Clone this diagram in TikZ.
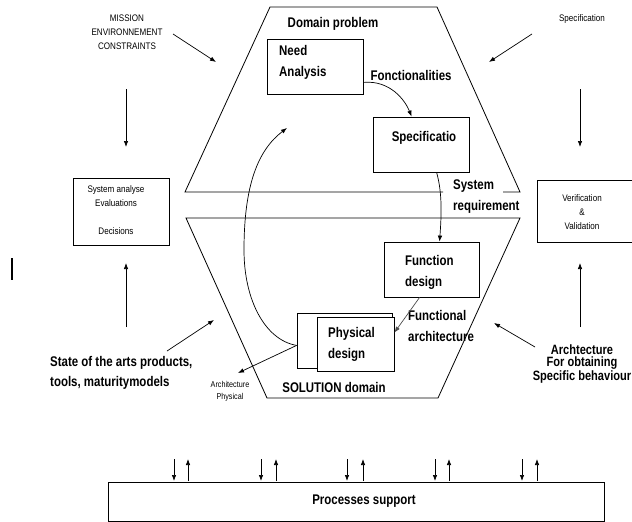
\documentclass[tikz,border=0pt]{standalone}
\usepackage{fontspec}
\setmainfont{Liberation Sans}
\newfontfamily\bnar[FakeStretch=0.82]{Liberation Sans Bold}
\newfontfamily\snar[FakeStretch=0.85]{Liberation Sans}
\usetikzlibrary{arrows.meta,calc}
\begin{document}
\begin{tikzpicture}[x=1pt,y=-1pt,
  lbl/.style={font=\bnar\fontsize{14}{21}\selectfont, inner sep=0pt},
  tight/.style={font=\bnar\fontsize{13.5}{12.5}\selectfont, inner sep=0pt, align=center},
  sm/.style={font=\snar\fontsize{9.5}{14}\selectfont, inner sep=0pt, align=center},
  boxn/.style={draw, line width=0.8pt, inner sep=0pt, fill=white},
  arr/.style={-{Latex[length=6pt,width=4.5pt]}, line width=0.7pt},
  edge/.style={line width=0.8pt}]
\useasboundingbox (0,0) rectangle (632,522);

% domain problem trapezoid
\draw[edge] (443,192) -- (185,192) -- (270,7) -- (437,7) -- (520,192) -- (503,192);
% solution domain shape
\draw[edge] (186,218) -- (520,218) -- (438,398) -- (267,398) -- cycle;

% boxes
\node[boxn, minimum width=96pt, minimum height=55pt] (na) at (315,66.5) {};
\node[boxn, minimum width=96pt, minimum height=55pt] (sp) at (421,144.5) {};
\node[boxn, minimum width=95pt, minimum height=55pt] (fd) at (431.5,269.5) {};
\node[boxn, minimum width=95pt, minimum height=55pt] (pb) at (344.5,340.5) {};
\node[boxn, minimum width=77pt, minimum height=54pt] (pf) at (355.5,344) {};
\node[boxn, minimum width=96pt, minimum height=67pt] (sa) at (121,211.5) {};
\node[boxn, minimum width=99pt, minimum height=62pt] (vv) at (586.5,211) {};
\node[boxn, minimum width=496pt, minimum height=39pt] (ps) at (356,501.5) {};

% texts
\node[lbl] (dom) at (333,23.5) {Domain problem};
\node[lbl, anchor=west, align=left] (nat) at (279,62.5) {Need\\Analysis};
\node[lbl] (fon) at (411,75) {Fonctionalities};
\node[lbl] (spt) at (424,138) {Specificatio};
\node[lbl, anchor=west, align=left] (sysr) at (453,197) {System\\requirement};
\node[lbl, anchor=west, align=left] (fdt) at (405,272) {Function\\design};
\node[lbl, anchor=west, align=left] (pdt) at (328,344) {Physical\\design};
\node[lbl, anchor=west, align=left] (fat) at (408,325.5) {Functional\\architecture};
\node[lbl] (sol) at (334,387) {SOLUTION domain};
\node[lbl] (pst) at (364,501) {Processes support};
\node[lbl, anchor=west, align=left, font=\bnar\fontsize{14}{20}\selectfont] (state) at (50,373) {State of the arts products,\\tools, maturitymodels};
\node[tight] (arch) at (582,364) {Archtecture\\For obtaining\\Specific behaviour};

\node[sm] (mis) at (127,32) {MISSION\\ENVIRONNEMENT\\CONSTRAINTS};
\node[sm] (spec) at (582,19) {Specification};
\node[sm] (sat) at (116,210) {System analyse\\Evaluations\\[14pt]Decisions};
\node[sm] (vvt) at (582,212) {Verification\\\&\\Validation};
\node[sm, font=\snar\fontsize{8.5}{12}\selectfont] (apt) at (230,391) {Architecture\\Physical};

% stray bar
\draw[line width=1.6pt] (12,258) -- (12,280);

% free ends
\coordinate (c1) at (216,62);
\coordinate (c2) at (489,62);
\coordinate (c3) at (214,320);
\coordinate (c4) at (494,323);
\coordinate (top) at (287,128);
\coordinate (ae) at (238,373);

% connectors in the diagram
\draw[arr] ($(na.south east)+(0,-12)$) .. controls (390,80) and (405,100) .. ($(sp.north west)+(39,0)$);
\draw[arr] ($(sp.south west)+(64,0)$) .. controls (443,195) and (441,220) .. ($(fd.north west)+(56,0)$);
\draw[arr, draw=black!70] ($(fd.south west)+(36,0)$) -- ($(pf.north east)+(0,16)$);
\draw[arr] ($(pb.south west)+(0,-23)$) .. controls (265,340) and (244,300) .. (244,250)
   .. controls (244,185) and (258,150) .. (top);
\draw[arr] ($(pb.south west)+(0,-23)$) -- (ae);

% side arrows
\draw[arr] (173,34) -- (c1);
\draw[arr] (532,34) -- (c2);
\draw[arr] (167,351) -- (c3);
\draw[arr] (535,347) -- (c4);
\draw[arr] (126,89) -- (126,147);
\draw[arr] (580,89) -- (580,147);
\draw[arr] (126,327) -- (126,263);
\draw[arr] (580,327) -- (580,263);

% process support arrows
\foreach \x in {174,261,347,435,522} {
  \draw[arr] (\x,459) -- (\x,481);
}
\foreach \x in {188,276,363,449,537} {
  \draw[arr] (\x,481) -- (\x,459);
}
\end{tikzpicture}
\end{document}
